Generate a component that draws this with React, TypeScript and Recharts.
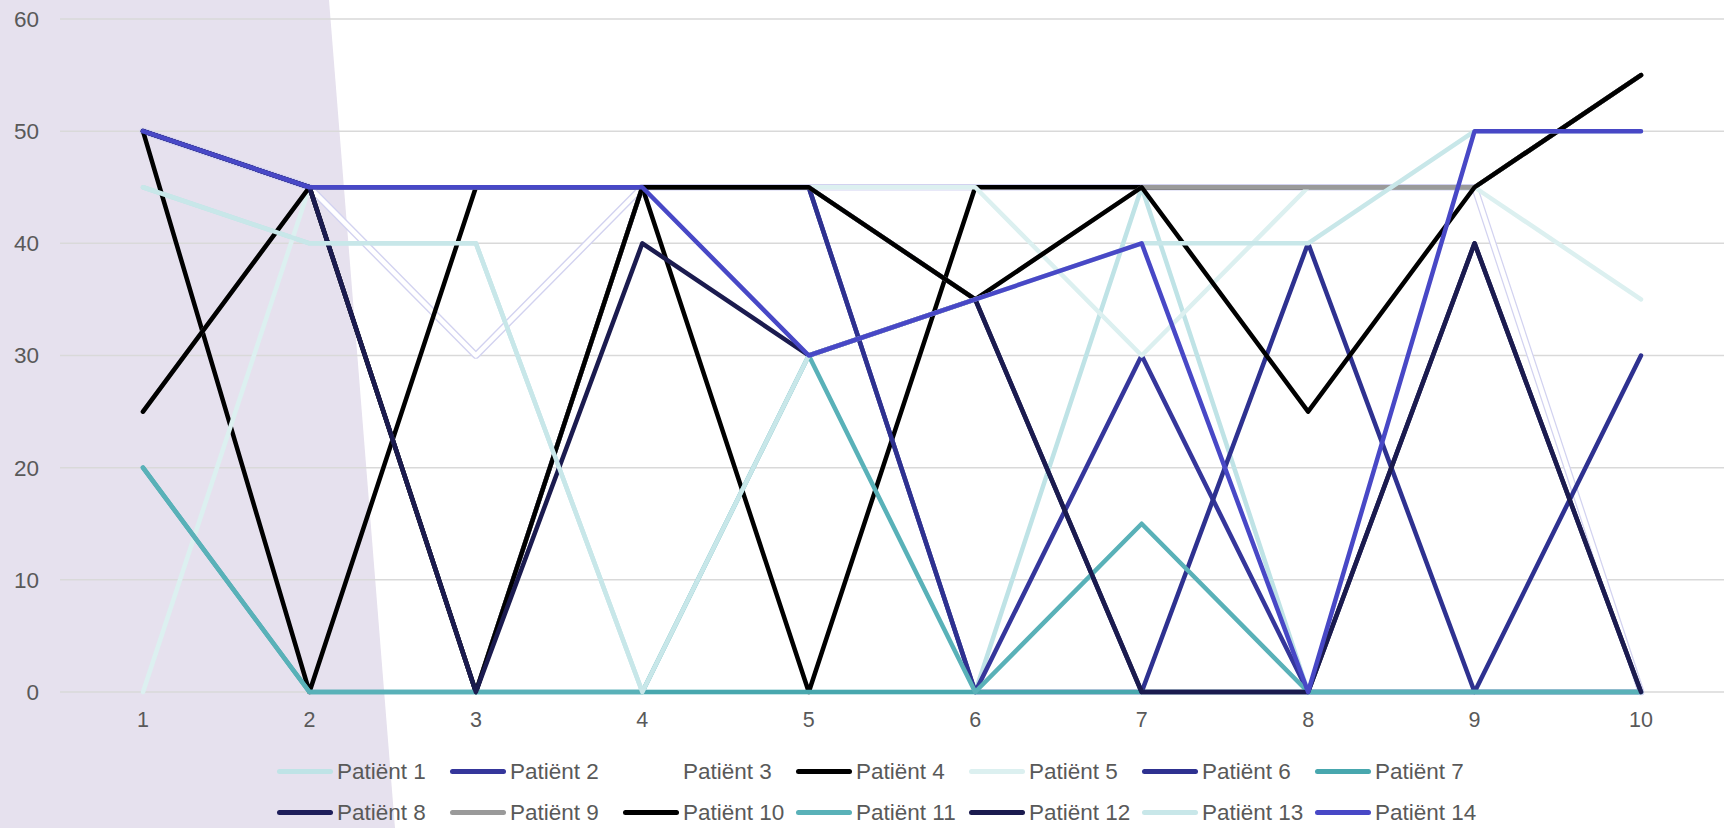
import React from 'react';
import { LineChart, Line, XAxis, YAxis, CartesianGrid } from 'recharts';

// sessions on the x axis
const sessions = ['1', '2', '3', '4', '5', '6', '7', '8', '9', '10'];
const yTicks = [0, 10, 20, 30, 40, 50, 60];

// scores per patient
const patient1 = [45, 40, 40, 0, 0, 0, 45, 0, 0, 0];
const patient2 = [50, 45, 45, 45, 45, 0, 30, 0, 0, 0];
const patient3 = [50, 45, 30, 45, 45, 45, 45, 45, 45, 0];
const patient4 = [50, 0, 45, 45, 0, 45, 45, 45, 45, 55];
const patient5 = [0, 45, 45, 45, 45, 45, 30, 45, 45, 35];
const patient6 = [50, 45, 45, 45, 45, 0, 0, 40, 0, 30];
const patient7 = [20, 0, 0, 0, 0, 0, 0, 0, 0, 0];
const patient8 = [50, 45, 0, 45, 45, 35, 0, 0, 40, 0];
const patient9 = [25, 45, 0, 45, 45, 35, 45, 45, 45, 55];
const patient10 = [25, 45, 0, 45, 45, 35, 45, 25, 45, 55];
const patient11 = [20, 0, 0, 0, 30, 0, 15, 0, 0, 0];
const patient12 = [50, 45, 0, 40, 30, 35, 0, 0, 40, 0];
const patient13 = [45, 40, 40, 0, 30, 35, 40, 40, 50, 50];
const patient14 = [50, 45, 45, 45, 30, 35, 40, 0, 50, 50];

const series = [
  { key: 'p1', name: 'Patiënt 1', values: patient1, color: '#bfe3e6' },
  { key: 'p2', name: 'Patiënt 2', values: patient2, color: '#35369b' },
  { key: 'p3', name: 'Patiënt 3', values: patient3, color: '#ffffff' },
  { key: 'p4', name: 'Patiënt 4', values: patient4, color: '#000000' },
  { key: 'p5', name: 'Patiënt 5', values: patient5, color: '#dcf0f0' },
  { key: 'p6', name: 'Patiënt 6', values: patient6, color: '#2e3190' },
  { key: 'p7', name: 'Patiënt 7', values: patient7, color: '#48a7ae' },
  { key: 'p8', name: 'Patiënt 8', values: patient8, color: '#1e1e5a' },
  { key: 'p9', name: 'Patiënt 9', values: patient9, color: '#9a9a9a' },
  { key: 'p10', name: 'Patiënt 10', values: patient10, color: '#000000' },
  { key: 'p11', name: 'Patiënt 11', values: patient11, color: '#59b1b8' },
  { key: 'p12', name: 'Patiënt 12', values: patient12, color: '#1b1b4f' },
  { key: 'p13', name: 'Patiënt 13', values: patient13, color: '#c8e7e9' },
  { key: 'p14', name: 'Patiënt 14', values: patient14, color: '#4848c6' },
];

const data = sessions.map((s, i) => {
  const row: Record<string, any> = { session: s };
  series.forEach((p) => {
    row[p.key] = p.values[i];
  });
  return row;
});

const FONT = '"Liberation Sans", Arial, sans-serif';
const TEXT = '#595959';

const PatientLegend = () => (
  <div
    style={{
      position: 'absolute',
      left: 277,
      top: 751,
      width: 7 * 173,
      display: 'flex',
      flexWrap: 'wrap',
      fontFamily: FONT,
      fontSize: 22.5,
      color: TEXT,
    }}
  >
    {series.map((p) => (
      <div key={p.key} style={{ width: 173, height: 41, display: 'flex', alignItems: 'center' }}>
        <div
          style={{
            width: 56,
            height: 5,
            borderRadius: 3,
            background: p.color,
            marginRight: 4,
            flexShrink: 0,
          }}
        />
        <span style={{ whiteSpace: 'nowrap' }}>{p.name}</span>
      </div>
    ))}
  </div>
);

export default function App() {
  return (
    <div style={{ position: 'fixed', left: 0, top: 0, width: 1727, height: 828, background: '#ffffff', overflow: 'hidden' }}>
      {/* lavender backdrop on the left */}
      <svg width={1727} height={828} style={{ position: 'absolute', left: 0, top: 0 }}>
        <polygon points="0,0 329,0 395,828 0,828" fill="#e6e1ee" />
      </svg>
      <div style={{ position: 'absolute', left: 0, top: 0 }}>
        <LineChart
          width={1727}
          height={828}
          data={data}
          margin={{ top: 19, right: 3, bottom: 106, left: 0 }}
          style={{ fontFamily: FONT }}
        >
          <defs>
            <filter id="whiteEdge" filterUnits="userSpaceOnUse" x="0" y="0" width="1727" height="828">
              <feMorphology in="SourceAlpha" operator="dilate" radius="0.5" result="dil" />
              <feFlood floodColor="#d2d2f0" result="col" />
              <feComposite in="col" in2="dil" operator="in" result="edge" />
              <feMerge>
                <feMergeNode in="edge" />
                <feMergeNode in="SourceGraphic" />
              </feMerge>
            </filter>
          </defs>
          <CartesianGrid vertical={false} stroke="#d9d9d9" strokeWidth={1.5} />
          <XAxis
            dataKey="session"
            axisLine={false}
            tickLine={false}
            tickMargin={14}
            padding={{ left: 83, right: 83 }}
            tick={{ fill: TEXT, fontSize: 21.5, fontFamily: FONT }}
            interval={0}
          />
          <YAxis
            width={60}
            domain={[0, 60]}
            ticks={yTicks}
            axisLine={false}
            tickLine={false}
            tickMargin={15}
            tick={{ fill: TEXT, fontSize: 22.5, fontFamily: FONT }}
          />
          {series.map((p) => (
            <Line
              key={p.key}
              type="linear"
              dataKey={p.key}
              name={p.name}
              stroke={p.color}
              strokeWidth={4.5}
              strokeLinecap="round"
              strokeLinejoin="round"
              dot={false}
              activeDot={false}
              filter={p.key === 'p3' ? 'url(#whiteEdge)' : undefined}
              isAnimationActive={false}
            />
          ))}
        </LineChart>
      </div>
      <PatientLegend />
    </div>
  );
}
